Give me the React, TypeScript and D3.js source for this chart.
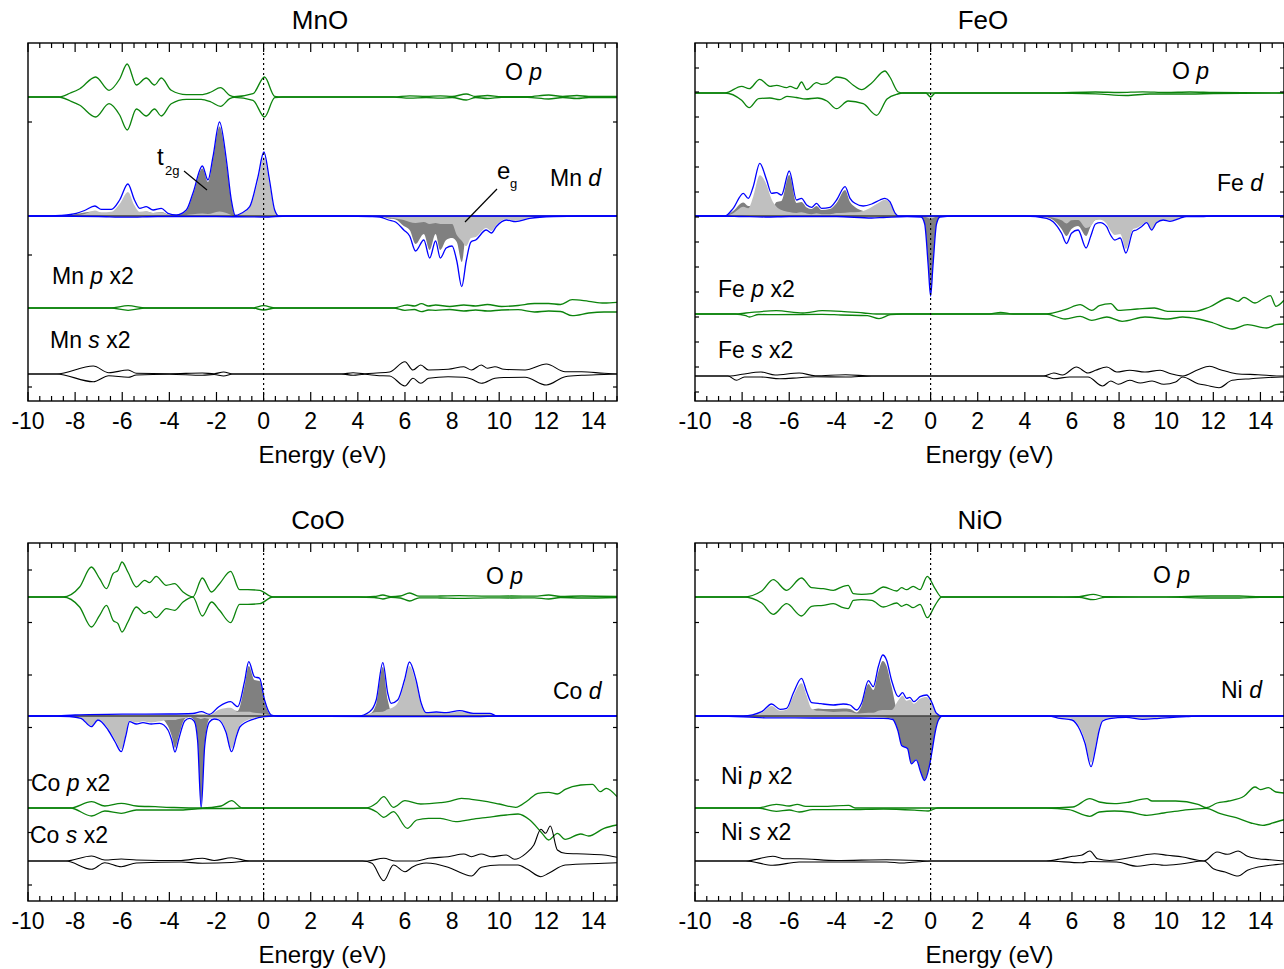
import React from "react";
import * as d3 from "d3";

type Pt = [number, number];
type DPt = [number, number, number]; // energy, t2g, eg

const energyTicks = [-10, -8, -6, -4, -2, 0, 2, 4, 6, 8, 10, 12, 14];

// ---------------- MnO ----------------
const mnoOp: Pt[] = [[-10,0],[-8.7,0],[-8.2,0.4],[-7.8,0.83],[-7.13,2.0],[-6.56,0.67],[-6.11,1.8],[-5.79,3.3],[-5.4,1.2],[-4.98,1.9],[-4.63,1.2],[-4.34,1.9],[-3.92,0.67],[-3.28,0.23],[-2.65,0.23],[-2.23,0.5],[-1.83,0.93],[-1.44,0.17],[-1.25,0.03],[-0.45,0.33],[0.04,2.0],[0.47,0.07],[0.8,0],[5.5,0],[6.2,0.12],[6.9,0.05],[7.5,0.12],[8,0.05],[8.6,0.3],[9.0,0.05],[9.5,0.15],[10.1,0.03],[11.2,0.03],[12.1,0.2],[12.7,0.05],[13.3,0.15],[13.8,0.05],[15,0.05]];
const mnoDUp: DPt[] = [[-10,0,0],[-9,0,0],[-8.6,0.02,0.03],[-8.2,0.1,0.05],[-7.95,0.2,0.07],[-7.6,0.35,0.2],[-7.16,0.45,0.55],[-6.89,0.3,0.37],[-6.46,0.25,0.42],[-6.11,0.4,1.2],[-5.76,0.8,2.4],[-5.48,0.55,1.05],[-5.26,0.35,0.42],[-4.98,0.45,0.48],[-4.69,0.3,0.3],[-4.34,0.4,0.37],[-4.06,0.15,0.12],[-3.71,0.05,0.05],[-3.28,0.5,0.1],[-3.0,2.1,0.17],[-2.6,4.75,0.25],[-2.36,3.4,0.2],[-2.15,5.6,0.3],[-1.87,8.95,0.45],[-1.58,5.3,0.3],[-1.37,1.5,0.1],[-1.2,0.05,0],[-0.95,0.05,0.22],[-0.59,0.08,0.85],[-0.24,0.4,3.5],[0.01,0.5,5.9],[0.25,0.3,3.3],[0.47,0.1,0.5],[0.65,0,0],[1.0,0,0],[15,0,0]];
const mnoDDn: DPt[] = [[-10,0,0],[-9,0,0],[-7,0.03,0.02],[-5.8,0.06,0.06],[-4.5,0.03,0.02],[-2,0.03,0.02],[0,0.05,0.05],[1,0,0],[3.5,0,0],[4.5,0.03,0.02],[4.93,0.05,0.05],[5.3,0.25,0.15],[5.6,0.35,0.25],[5.95,1.0,0.4],[6.2,1.4,0.6],[6.45,2.8,0.7],[6.8,1.8,0.6],[7.05,3.4,0.8],[7.3,1.8,0.7],[7.5,3.4,0.8],[7.75,2.4,0.8],[8.0,2.2,0.8],[8.2,2.6,1.9],[8.41,4.6,2.47],[8.6,1.5,3.0],[8.8,0.4,2.2],[9.0,0.3,2.1],[9.45,0.2,1.2],[9.67,0.2,1.5],[9.88,0.15,0.9],[10.3,0.1,0.3],[10.7,0.1,0.47],[11.3,0.05,0.18],[12.3,0,0.05],[13.5,0,0],[15,0,0]];
const mnoPUp: Pt[] = [[-10,0],[-6.5,0],[-5.75,0.23],[-5.0,0],[-0.5,0],[0,0.23],[0.5,0],[5.5,0],[6.1,0.3],[6.4,0.2],[6.7,0.43],[7.0,0.2],[7.3,0.3],[7.9,0.15],[8.5,0.3],[9.0,0.2],[9.5,0.35],[10.1,0.15],[10.8,0.25],[11.5,0.45],[12.1,0.45],[12.6,0.35],[13.1,0.83],[13.8,0.67],[14.45,0.5],[15,0.57]];
const mnoPDn: Pt[] = [[-10,0],[-6.5,0],[-5.75,0.23],[-5.0,0],[-0.5,0],[0,0.2],[0.5,0],[5.5,0],[6.0,0.23],[6.4,0.15],[6.7,0.37],[7.0,0.2],[7.3,0.23],[7.9,0.15],[8.5,0.3],[9.0,0.2],[9.5,0.3],[10.1,0.2],[10.8,0.17],[11.5,0.4],[12.1,0.3],[12.6,0.35],[13.1,0.77],[13.8,0.5],[14.45,0.4],[15,0.4]];
const mnoSUp: Pt[] = [[-10,0],[-8.8,0],[-7.23,0.8],[-6.57,0.13],[-5.75,0.4],[-5.4,0.07],[-4,0.03],[-2.6,0.1],[-2.1,0.03],[-1.7,0.2],[-1.3,0],[3.3,0],[3.8,0.13],[4.3,0.03],[4.8,0.1],[5.35,0.2],[6.0,1.23],[6.34,0.4],[6.67,0.9],[7.0,0.4],[7.83,0.47],[8.5,0.73],[8.82,0.4],[9.24,0.9],[9.5,0.57],[9.82,0.73],[10.2,0.47],[11.1,0.4],[12.0,1.0],[12.8,0.23],[13.5,0.23],[14.45,0.07],[15,0]];
const mnoSDn: Pt[] = [[-10,0],[-8.8,0],[-7.23,0.77],[-6.57,0.17],[-5.75,0.33],[-5.4,0.1],[-4,0.03],[-2.6,0.13],[-2.1,0.05],[-1.7,0.2],[-1.3,0],[3.3,0],[3.8,0.13],[4.3,0.03],[4.8,0.15],[5.35,0.2],[6.0,1.2],[6.34,0.43],[6.67,0.93],[7.0,0.43],[7.83,0.27],[8.5,0.33],[8.82,0.5],[9.24,0.93],[9.82,0.43],[10.2,0.35],[11.1,0.33],[12.0,1.1],[12.8,0.27],[13.5,0.13],[14.45,0.05],[15,0]];
const mnoBase = [30.4, 18.5, 9.3, 2.7];
const mnoYTicks = [1.4, 14.6, 27.9];

// ---------------- FeO ----------------
const feoOpUp: Pt[] = [[-10,0],[-8.73,0],[-8.02,0.67],[-7.7,0.43],[-7.25,1.37],[-6.82,0.67],[-6.54,0.77],[-6.11,0.53],[-5.97,0.67],[-5.69,0.43],[-5.48,1.1],[-5.26,0.33],[-4.84,1.03],[-4.63,0.87],[-4.41,0.93],[-3.99,1.6],[-3.63,1.43],[-3.28,0.77],[-2.93,0.33],[-2.5,1.0],[-1.94,2.2],[-1.73,1.6],[-1.37,0.1],[-1.16,0],[1,0],[5,0],[7,0.1],[8,0.05],[9,0.12],[10,0.05],[11,0.1],[12,0.05],[15,0]];
const feoOpDn: Pt[] = [[-10,0],[-8.73,0],[-8.02,0.73],[-7.7,1.47],[-7.3,0.57],[-6.82,0.5],[-6.4,0.67],[-6.1,0.33],[-5.7,0.45],[-5.3,0.6],[-4.8,0.5],[-4.4,0.8],[-3.99,1.57],[-3.5,0.8],[-2.86,1.07],[-2.29,2.23],[-1.85,0.6],[-1.4,0.1],[-1.16,0],[-0.2,0],[0,0.4],[0.2,0],[5,0],[7,0.08],[8.3,0.25],[9.3,0.1],[11,0.1],[12,0.05],[15,0]];
const feoDUp: DPt[] = [[-10,0,0],[-9,0,0],[-8.73,0,0],[-8.38,0.5,0.27],[-7.95,1.35,0.92],[-7.74,1.0,0.77],[-7.53,1.0,1.93],[-7.25,1.2,4.07],[-6.96,0.5,3.1],[-6.75,0.6,1.67],[-6.54,1.4,0.93],[-6.33,1.5,0.6],[-6.0,4.1,0.4],[-5.69,1.3,0.3],[-5.48,1.4,0.37],[-5.26,0.85,0.25],[-5.05,0.7,0.17],[-4.84,1.0,0.27],[-4.63,0.6,0.17],[-4.27,0.7,0.17],[-3.99,1.3,0.3],[-3.63,2.6,0.33],[-3.42,1.4,0.37],[-3.21,0.9,0.37],[-2.86,0.5,0.5],[-2.5,0.3,0.9],[-2.15,0.2,1.4],[-1.94,0.15,1.62],[-1.73,0.1,1.33],[-1.5,0.05,0.22],[-1.37,0,0],[-1,0,0],[15,0,0]];
const feoDDn: DPt[] = [[-10,0,0],[-9,0,0],[-8,0.03,0.02],[-7,0.05,0.05],[-6,0.03,0.02],[-4,0.03,0.02],[-2.5,0.1,0.1],[-2,0.08,0.07],[-1,0.03,0.02],[-0.4,0.08,0.02],[-0.25,0.75,0.05],[-0.1,4.8,0.2],[0,7.7,0.3],[0.1,4.8,0.2],[0.25,0.75,0.05],[0.4,0.08,0.02],[1,0,0],[4,0,0],[4.92,0.15,0.08],[5.2,0.4,0.17],[5.56,1.3,0.43],[5.77,2.0,0.75],[5.98,1.3,0.43],[6.26,1.0,0.4],[6.6,2.0,1.2],[6.8,1.0,1.0],[7.0,0.4,0.4],[7.2,0.3,0.37],[7.47,0.3,0.77],[7.6,0.4,1.33],[7.82,0.5,1.9],[8.05,0.4,1.8],[8.29,0.4,3.3],[8.6,0.2,1.3],[8.74,0.2,1.2],[8.95,0.15,0.92],[9.17,0.1,0.57],[9.38,0.1,1.3],[9.59,0.05,0.62],[9.87,0.05,0.35],[10.16,0.05,0.48],[10.58,0,0.23],[10.86,0,0.07],[11.5,0,0.05],[12,0,0],[15,0,0]];
const fePUp: Pt[] = [[-10,0],[-8.3,0],[-7.84,0.1],[-6.55,0.33],[-5.42,0.1],[-4.6,0.33],[-3.8,0.27],[-2.84,0.1],[-2.3,0],[2.5,0],[2.97,0.17],[3.5,0],[4.9,0],[5.71,0.43],[6.35,0.93],[6.84,0.37],[7.16,0.83],[7.65,1.03],[7.97,0.37],[8.77,0.5],[9.5,0.6],[10.06,0.27],[11.2,0.27],[11.84,0.7],[12.65,1.6],[13.05,1.27],[13.3,1.67],[13.77,1.1],[14.1,1.5],[14.42,1.83],[14.66,0.77],[15,1.37]];
const fePDn: Pt[] = [[-10,0],[-8.3,0],[-7.84,0.17],[-7.7,0.3],[-7.3,0.05],[-6.55,0.07],[-4.6,0.03],[-3.8,0.1],[-2.68,0.17],[-2.19,0.47],[-1.7,0.07],[-1.2,0],[4.9,0],[5.71,0.5],[6.35,0.23],[6.84,0.63],[7.48,0.3],[8.13,0.73],[9.1,0.3],[10.06,0.5],[10.7,0.3],[11.35,0.5],[12.0,0.9],[12.8,1.5],[13.45,1.07],[14.26,1.4],[14.66,1.07],[15,1.0]];
const feSUp: Pt[] = [[-10,0],[-8.5,0],[-8.0,0.17],[-7.2,0.4],[-6.6,0.1],[-5.58,0.3],[-4.9,0.03],[-3.6,0.13],[-2.5,0],[4.8,0],[5.23,0.3],[5.6,0.1],[6.19,0.9],[6.68,0.3],[7.0,0.57],[7.48,0.9],[7.9,0.4],[8.45,0.57],[9.1,0.4],[9.74,0.57],[10.2,0.23],[10.7,0],[11.35,0.63],[11.84,0.97],[12.3,0.63],[12.97,0.23],[13.9,0.13],[14.9,0],[15,0]];
const feSDn: Pt[] = [[-10,0],[-8.6,0],[-8.24,0.43],[-7.9,0.1],[-7.2,0.1],[-6.4,0.27],[-5.58,0.17],[-4.9,0.08],[-3.6,0.1],[-2.5,0],[4.8,0],[5.23,0.27],[5.9,0.1],[6.68,0.1],[7.3,1.0],[7.65,0.5],[7.97,0.83],[8.45,0.43],[8.9,0.7],[9.4,0.5],[9.9,0.83],[10.4,0.6],[10.7,0.1],[11.35,0.77],[11.7,0.93],[12.24,1.17],[12.8,0.43],[13.6,0.27],[14.9,0.1],[15,0.1]];
const feoBase = [30.8, 18.5, 8.7, 2.5];
const feoYTicks = [0.9, 3.4, 5.9, 8.4, 10.9, 13.4, 15.9, 18.4, 20.9, 23.4, 25.9, 28.4, 30.9, 33.3];

// ---------------- CoO ----------------
const cooOp: Pt[] = [[-10,0],[-8.52,0],[-7.81,1.0],[-7.31,3.0],[-6.96,1.83],[-6.67,0.83],[-6.39,2.33],[-6.18,2.67],[-6.01,3.5],[-5.76,2.5],[-5.4,1.0],[-5.05,1.67],[-4.84,1.43],[-4.56,2.07],[-4.13,1.17],[-3.78,1.33],[-3.42,0.5],[-3.0,0.02],[-2.6,1.9],[-2.21,0.5],[-1.87,1.33],[-1.4,2.57],[-1.02,0.73],[-0.67,0.73],[-0.17,0.67],[0.4,0],[4,0],[4.7,0.05],[5.06,0.2],[5.4,0.03],[5.8,0.1],[6.2,0.4],[6.6,0.08],[7.5,0.1],[8.3,0.13],[9.5,0.08],[10.5,0.1],[11.5,0.08],[12.1,0.2],[12.6,0.05],[13.5,0.1],[15,0.05]];
const cooDUp: DPt[] = [[-10,0,0],[-9,0,0],[-8,0.05,0.05],[-6,0.08,0.1],[-4,0.08,0.12],[-3,0.1,0.15],[-2.64,0.2,0.23],[-2.3,0.05,0.12],[-1.9,0.3,0.63],[-1.4,0.6,0.83],[-1.1,0.5,0.43],[-0.81,3.0,0.43],[-0.63,5.0,0.43],[-0.39,3.6,0.33],[-0.17,3.5,0.27],[0.04,1.4,0.2],[0.33,0.05,0.05],[0.6,0,0],[4.0,0,0],[4.5,0.2,0.23],[4.78,1.2,0.4],[5.06,4.9,0.43],[5.27,1.6,0.67],[5.41,0.5,0.77],[5.69,0.3,1.3],[5.98,0.3,3.3],[6.19,0.4,5.0],[6.47,0.3,3.3],[6.69,0.2,1.07],[6.9,0.05,0.28],[7.33,0.1,0.3],[7.75,0.05,0.28],[8.32,0.1,0.43],[8.9,0.05,0.22],[9.6,0.05,0.22],[9.9,0,0],[10.5,0,0],[15,0,0]];
const cooDDn: DPt[] = [[-10,0,0],[-9,0,0],[-8.24,0.02,0.03],[-7.75,0.05,0.18],[-7.31,0.1,0.97],[-7.03,0.08,0.32],[-6.6,0.15,1.25],[-6.3,0.2,2.4],[-6.04,0.25,3.32],[-5.85,0.2,1.8],[-5.69,0.1,0.47],[-5.4,0.15,0.65],[-5.12,0.15,0.52],[-4.77,0.15,0.65],[-4.41,0.2,0.53],[-4.06,1.0,0.4],[-3.9,2.0,0.4],[-3.76,3.2,0.4],[-3.6,2.0,0.3],[-3.35,0.3,0.2],[-3.14,0.1,0.13],[-2.95,0.4,0.1],[-2.8,2.3,0.2],[-2.65,8.9,0.3],[-2.5,2.8,0.2],[-2.3,0.3,0.3],[-2.1,0.1,0.2],[-1.9,0.1,0.3],[-1.6,0.2,1.4],[-1.36,0.3,3.27],[-1.15,0.2,1.8],[-1.0,0.15,0.92],[-0.45,0.1,0.23],[0.04,0.02,0.05],[0.4,0,0],[5,0.02,0.03],[6,0.02,0.03],[7,0.02,0.03],[8,0.02,0.03],[9,0.02,0.03],[10,0,0],[15,0,0]];
const coPUp: Pt[] = [[-10,0],[-8.2,0],[-7.3,0.63],[-6.74,0.2],[-6.04,0.47],[-5.4,0.2],[-4.6,0.13],[-3.8,0.05],[-2.6,0],[-1.8,0.2],[-1.36,0.73],[-0.9,0],[4.35,0],[4.8,0.5],[5.1,1.13],[5.51,0.07],[6.0,0.73],[6.67,0.4],[7.5,0.53],[7.83,0.63],[8.4,0.97],[8.82,0.87],[9.5,0.63],[10.0,0.4],[10.7,0.07],[11.2,0.73],[11.64,1.47],[12.1,1.57],[12.47,1.4],[12.8,1.87],[13.46,2.3],[13.96,2.37],[14.29,1.63],[14.54,1.97],[15,1.13]];
const coPDn: Pt[] = [[-10,0],[-8.2,0],[-7.3,0.8],[-6.74,0.3],[-6.04,0.53],[-5.4,0.2],[-4.6,0.2],[-3.5,0.2],[-2.6,0.05],[-1.36,0.05],[-0.9,0],[4.35,0],[4.8,0.4],[5.1,0.93],[5.51,0.37],[6.1,2.03],[6.5,1.2],[7.0,1.03],[7.5,1.03],[8.16,1.37],[8.82,1.13],[9.5,0.93],[10.3,0.7],[10.8,0.6],[11.3,1.2],[11.8,2.47],[12.1,3.2],[12.47,2.53],[12.8,3.13],[13.46,2.6],[13.8,2.8],[14.45,2.03],[15,1.7]];
const coSUp: Pt[] = [[-10,0],[-8.4,0],[-7.3,0.5],[-6.74,0.1],[-6.04,0.2],[-5.4,0.1],[-3.5,0.05],[-2.6,0.27],[-2.1,0.05],[-1.36,0.33],[-0.6,0],[4.4,0],[5.1,0.27],[5.6,0],[6.5,0],[7.0,0.27],[7.83,0.43],[8.5,0.7],[8.82,0.43],[9.24,0.7],[9.65,0.43],[10.3,0.6],[10.65,0.17],[11.14,0.77],[11.47,1.6],[11.77,3.17],[11.97,2.77],[12.17,3.5],[12.47,1.1],[12.8,0.77],[13.6,0.7],[14.45,0.6],[15,0.37]];
const coSDn: Pt[] = [[-10,0],[-8.4,0],[-7.3,0.83],[-6.74,0.17],[-6.04,0.57],[-5.4,0.2],[-3.5,0.1],[-2.6,0.23],[-1.36,0.15],[-0.6,0],[4.2,0],[4.6,0.23],[5.1,1.97],[5.51,0.4],[6.0,1.07],[6.34,0.57],[6.9,0.2],[7.83,0.63],[8.5,1.3],[8.82,1.5],[9.24,0.63],[10.0,0.4],[10.8,0.4],[11.2,0.83],[11.77,1.57],[12.1,1.23],[12.8,0.4],[14.45,0.23],[15,0.17]];
const cooBase = [30.4, 18.5, 9.3, 4.0];
const cooYTicks = [1.6, 6.85, 12.1, 17.35, 22.6, 27.85, 33.1];

// ---------------- NiO ----------------
const nioOp: Pt[] = [[-10,0],[-7.95,0],[-7.17,0.6],[-6.68,1.73],[-6.11,0.67],[-5.48,1.9],[-5.05,0.93],[-4.56,0.83],[-4.13,0.67],[-3.71,1.07],[-3.5,1.17],[-3.28,0.33],[-2.93,0.27],[-2.5,0.33],[-2.0,1.0],[-1.44,0.6],[-1.23,0.93],[-1.02,0.73],[-0.74,1.07],[-0.45,0.73],[-0.14,2.07],[0.19,0.83],[0.47,0],[5,0],[6.3,0.03],[6.9,0.27],[7.4,0.03],[10,0.02],[11.9,0.1],[13.1,0.1],[14,0.03],[15,0.03]];
const nioDUp: DPt[] = [[-10,0,0],[-8.5,0,0],[-7.95,0,0],[-7.17,0.1,0.33],[-6.75,0.2,1.0],[-6.39,0.15,0.52],[-6.11,0.15,0.62],[-5.83,0.3,1.97],[-5.48,0.5,3.27],[-5.26,0.4,2.03],[-5.05,0.6,0.73],[-4.77,0.75,0.52],[-4.56,0.7,0.5],[-4.13,0.7,0.4],[-3.71,0.75,0.45],[-3.42,0.7,0.4],[-3.14,0.35,0.25],[-2.93,1.0,0.27],[-2.64,3.2,0.33],[-2.43,2.6,0.33],[-2.22,4.4,0.53],[-2.03,5.5,0.6],[-1.87,5.0,0.6],[-1.66,3.0,0.6],[-1.37,0.35,1.58],[-1.19,0.3,2.03],[-1.02,0.25,1.52],[-0.88,0.25,1.62],[-0.71,0.2,1.23],[-0.45,0.2,1.73],[-0.17,0.2,1.9],[0.04,0.15,1.28],[0.25,0.05,0.22],[0.47,0,0],[1,0,0],[15,0,0]];
const nioDDn: DPt[] = [[-10,0,0],[-9,0,0],[-7,0.1,0.08],[-5,0.1,0.1],[-3,0.1,0.1],[-2,0.15,0.08],[-1.6,0.3,0.05],[-1.45,1.0,0.05],[-1.39,1.4,0.05],[-1.23,2.9,0.05],[-0.98,3.2,0.05],[-0.82,4.73,0.05],[-0.61,4.33,0.05],[-0.42,5.57,0.05],[-0.26,6.4,0.05],[-0.06,5.07,0.05],[0.06,3.5,0.05],[0.2,1.5,0.05],[0.33,0.4,0.03],[0.5,0,0],[5.0,0,0],[5.49,0.05,0.18],[6.0,0.1,0.3],[6.34,0.2,1.2],[6.55,0.3,2.4],[6.81,0.4,4.67],[7.0,0.3,3.0],[7.15,0.2,1.3],[7.3,0.1,0.4],[7.6,0.05,0.22],[8.3,0.03,0.1],[9.0,0.05,0.28],[9.7,0.05,0.18],[10.3,0.03,0.1],[10.86,0,0.07],[11.5,0,0],[15,0,0]];
const niPUp: Pt[] = [[-10,0],[-7.35,0],[-6.55,0.37],[-6.0,0.2],[-5.66,0.37],[-5.3,0.17],[-4.6,0.17],[-3.48,0.27],[-3.2,0],[4.9,0],[6.03,0.1],[6.76,0.93],[7.16,0.6],[7.8,0.43],[8.45,0.6],[9.18,0.93],[9.4,0.7],[10.4,0.7],[11.35,0.37],[11.7,0.03],[12.16,0.5],[12.65,0.7],[13.3,1.17],[13.77,2.1],[14.0,1.83],[14.34,2.03],[14.66,1.6],[15,1.5]];
const niPDn: Pt[] = [[-10,0],[-7.35,0],[-6.55,0.33],[-6.0,0.2],[-5.58,0.4],[-5.0,0.17],[-3.5,0.17],[-2.0,0.1],[-0.58,0.23],[-0.1,0.3],[0.3,0],[4.9,0],[5.87,0.17],[6.76,0.83],[7.16,0.4],[7.8,0.3],[8.45,0.4],[9.18,0.73],[9.9,0.5],[10.7,0.23],[11.7,0.03],[12.3,0.57],[12.97,0.97],[13.6,1.5],[14.1,1.73],[14.66,1.4],[15,1.17]];
const niSUp: Pt[] = [[-10,0],[-7.84,0],[-6.7,0.47],[-6.2,0.23],[-5.58,0.23],[-4.0,0.05],[-1.87,0.13],[-0.5,0.05],[0,0],[4.9,0],[5.55,0.23],[6.03,0.47],[6.4,0.57],[6.76,1.0],[7.08,0.23],[7.6,0.05],[8.77,0.47],[9.5,0.73],[10.06,0.57],[10.7,0.4],[11.35,0.07],[11.6,0],[12.16,0.9],[12.6,0.67],[13.05,1.0],[13.45,0.47],[13.9,0.23],[14.4,0.13],[15,0]];
const niSDn: Pt[] = [[-10,0],[-7.84,0],[-6.7,0.43],[-5.58,0.1],[-1.87,0.1],[-1.2,0.2],[-0.5,0.07],[0,0],[4.9,0],[6.4,0.17],[6.76,0.05],[7.9,0.1],[8.77,0.53],[9.5,0.33],[9.9,0.43],[10.7,0.27],[11.6,0],[12.0,0.77],[12.5,1.1],[13.05,1.5],[13.45,0.93],[13.9,0.6],[14.4,0.43],[15,0.27]];
const nioBase = [30.4, 18.5, 9.3, 4.0];
const nioYTicks = [1.6, 6.85, 12.1, 17.35, 22.6, 27.85, 33.1];

// ---------------- layout ----------------
const BOX_W = 589;
const BOX_H = 358;
const FONT = "'Liberation Sans', Arial, Helvetica, sans-serif";
const GREEN = "#0c840c";
const BLUE = "#0000ff";
const DARK = "#808080";
const LIGHT = "#c0c0c0";

type PanelCfg = {
  name: string;
  metal: string;
  left: number;
  top: number;
  titleX: number;
  opUp: Pt[];
  opDn: Pt[];
  dUp: DPt[];
  dDn: DPt[];
  pUp: Pt[];
  pDn: Pt[];
  sUp: Pt[];
  sDn: Pt[];
  base: number[];
  yTicks: number[];
  lab: { op: Pt; d: Pt; p: Pt; s: Pt };
  notes?: boolean;
};

const panels: PanelCfg[] = [
  { name: "MnO", metal: "Mn", left: 28, top: 43, titleX: 320, opUp: mnoOp, opDn: mnoOp, dUp: mnoDUp, dDn: mnoDDn, pUp: mnoPUp, pDn: mnoPDn, sUp: mnoSUp, sDn: mnoSDn, base: mnoBase, yTicks: mnoYTicks, lab: { op: [477, 37], d: [522, 143], p: [24, 241], s: [22, 305] }, notes: true },
  { name: "FeO", metal: "Fe", left: 695, top: 43, titleX: 983, opUp: feoOpUp, opDn: feoOpDn, dUp: feoDUp, dDn: feoDDn, pUp: fePUp, pDn: fePDn, sUp: feSUp, sDn: feSDn, base: feoBase, yTicks: feoYTicks, lab: { op: [477, 36], d: [522, 148], p: [23, 254], s: [23, 315] } },
  { name: "CoO", metal: "Co", left: 28, top: 543, titleX: 318, opUp: cooOp, opDn: cooOp, dUp: cooDUp, dDn: cooDDn, pUp: coPUp, pDn: coPDn, sUp: coSUp, sDn: coSDn, base: cooBase, yTicks: cooYTicks, lab: { op: [458, 41], d: [525, 156], p: [3, 248], s: [2, 300] } },
  { name: "NiO", metal: "Ni", left: 695, top: 543, titleX: 980, opUp: nioOp, opDn: nioOp, dUp: nioDUp, dDn: nioDDn, pUp: niPUp, pDn: niPDn, sUp: niSUp, sDn: niSDn, base: nioBase, yTicks: nioYTicks, lab: { op: [458, 40], d: [526, 155], p: [26, 241], s: [26, 297] } },
];

function Panel({ p }: { p: PanelCfg }) {
  const x = d3.scaleLinear().domain([-10, 15]).range([p.left, p.left + BOX_W]);
  const y = d3.scaleLinear().domain([0, 35.8]).range([p.top + BOX_H, p.top]);
  const [bOp, bD, bP, bS] = p.base;
  const curve = d3.curveMonotoneX;
  const ln = (b: number, sign: number) =>
    d3.line<Pt>().x((d) => x(d[0])).y((d) => y(b + sign * d[1])).curve(curve);
  const ar = (b: number, sign: number, k: 1 | 2) =>
    d3.area<DPt>().x((d) => x(d[0])).y0(y(b)).y1((d) => y(b + sign * d[k])).curve(curve);
  const tot = (arr: DPt[]): Pt[] => arr.map((d) => [d[0], d[1] + d[2]] as Pt);
  const clipId = `clip-${p.name}`;
  const bottom = p.top + BOX_H;
  const right = p.left + BOX_W;
  const minor = x.ticks(50);
  const cx = p.left + BOX_W / 2;
  const fs = 23;

  return (
    <g>
      <defs>
        <clipPath id={clipId}>
          <rect x={p.left} y={p.top} width={BOX_W} height={BOX_H} />
        </clipPath>
      </defs>
      <g clipPath={`url(#${clipId})`} fill="none" strokeWidth={1.3} strokeLinejoin="round">
        {/* d fills */}
        <path d={ar(bD, 1, 1)(p.dUp) || ""} fill={DARK} stroke="none" />
        <path d={ar(bD, 1, 2)(p.dUp) || ""} fill={LIGHT} stroke="none" />
        <path d={ar(bD, -1, 1)(p.dDn) || ""} fill={DARK} stroke="none" />
        <path d={ar(bD, -1, 2)(p.dDn) || ""} fill={LIGHT} stroke="none" />
        <line x1={p.left} x2={right} y1={y(bD)} y2={y(bD)} stroke="#000" strokeWidth={1.2} />
        <path d={ln(bD, 1)(tot(p.dUp)) || ""} stroke={BLUE} />
        <path d={ln(bD, -1)(tot(p.dDn)) || ""} stroke={BLUE} />
        {/* O p */}
        <path d={ln(bOp, 1)(p.opUp) || ""} stroke={GREEN} />
        <path d={ln(bOp, -1)(p.opDn) || ""} stroke={GREEN} />
        {/* metal p */}
        <path d={ln(bP, 1)(p.pUp) || ""} stroke={GREEN} />
        <path d={ln(bP, -1)(p.pDn) || ""} stroke={GREEN} />
        {/* metal s */}
        <path d={ln(bS, 1)(p.sUp) || ""} stroke="#000" strokeWidth={1.1} />
        <path d={ln(bS, -1)(p.sDn) || ""} stroke="#000" strokeWidth={1.1} />
      </g>
      {/* Fermi level */}
      <line x1={x(0)} x2={x(0)} y1={p.top} y2={bottom} stroke="#000" strokeWidth={1.2} strokeDasharray="2,3" />
      {/* frame */}
      <rect x={p.left} y={p.top} width={BOX_W} height={BOX_H} fill="none" stroke="#000" strokeWidth={1.4} />
      {/* x ticks */}
      <g stroke="#000" strokeWidth={1.2}>
        {minor.map((t) => {
          const len = energyTicks.includes(t) ? 9 : 5;
          return (
            <g key={t}>
              <line x1={x(t)} x2={x(t)} y1={bottom} y2={bottom - len} />
              <line x1={x(t)} x2={x(t)} y1={p.top} y2={p.top + len} />
            </g>
          );
        })}
        {p.yTicks.map((t) => (
          <g key={t}>
            <line x1={p.left} x2={p.left + 4} y1={y(t)} y2={y(t)} />
            <line x1={right} x2={right - 4} y1={y(t)} y2={y(t)} />
          </g>
        ))}
      </g>
      <g fontFamily={FONT} fontSize={fs} fill="#000" textAnchor="middle">
        {energyTicks.map((t) => (
          <text key={t} x={x(t)} y={bottom + 28}>{String(t)}</text>
        ))}
        <text x={cx} y={bottom + 62} fontSize={24}>Energy (eV)</text>
        <text x={p.titleX} y={p.top - 14} fontSize={26}>{p.name}</text>
      </g>
      <g fontFamily={FONT} fontSize={fs} fill="#000">
        <text x={p.left + p.lab.op[0]} y={p.top + p.lab.op[1]}>
          O <tspan fontStyle="italic">p</tspan>
        </text>
        <text x={p.left + p.lab.d[0]} y={p.top + p.lab.d[1]}>
          {p.metal} <tspan fontStyle="italic">d</tspan>
        </text>
        <text x={p.left + p.lab.p[0]} y={p.top + p.lab.p[1]}>
          {p.metal} <tspan fontStyle="italic">p</tspan> x2
        </text>
        <text x={p.left + p.lab.s[0]} y={p.top + p.lab.s[1]}>
          {p.metal} <tspan fontStyle="italic">s</tspan> x2
        </text>
        {p.notes && (
          <g>
            <text x={p.left + 129} y={p.top + 122} fontSize={24}>t</text>
            <text x={p.left + 137} y={p.top + 132} fontSize={13}>2g</text>
            <line x1={p.left + 156} y1={p.top + 128} x2={p.left + 179} y2={p.top + 147} stroke="#000" strokeWidth={1.2} />
            <text x={p.left + 469} y={p.top + 136} fontSize={24}>e</text>
            <text x={p.left + 482} y={p.top + 145} fontSize={13}>g</text>
            <line x1={p.left + 469} y1={p.top + 146} x2={p.left + 437} y2={p.top + 179} stroke="#000" strokeWidth={1.2} />
          </g>
        )}
      </g>
    </g>
  );
}

export default function App() {
  return (
    <svg
      width={1284}
      height={969}
      viewBox="0 0 1284 969"
      style={{ position: "absolute", left: 0, top: 0, background: "#fff" }}
    >
      <rect x={0} y={0} width={1284} height={969} fill="#fff" />
      {panels.map((p) => (
        <Panel key={p.name} p={p} />
      ))}
    </svg>
  );
}
